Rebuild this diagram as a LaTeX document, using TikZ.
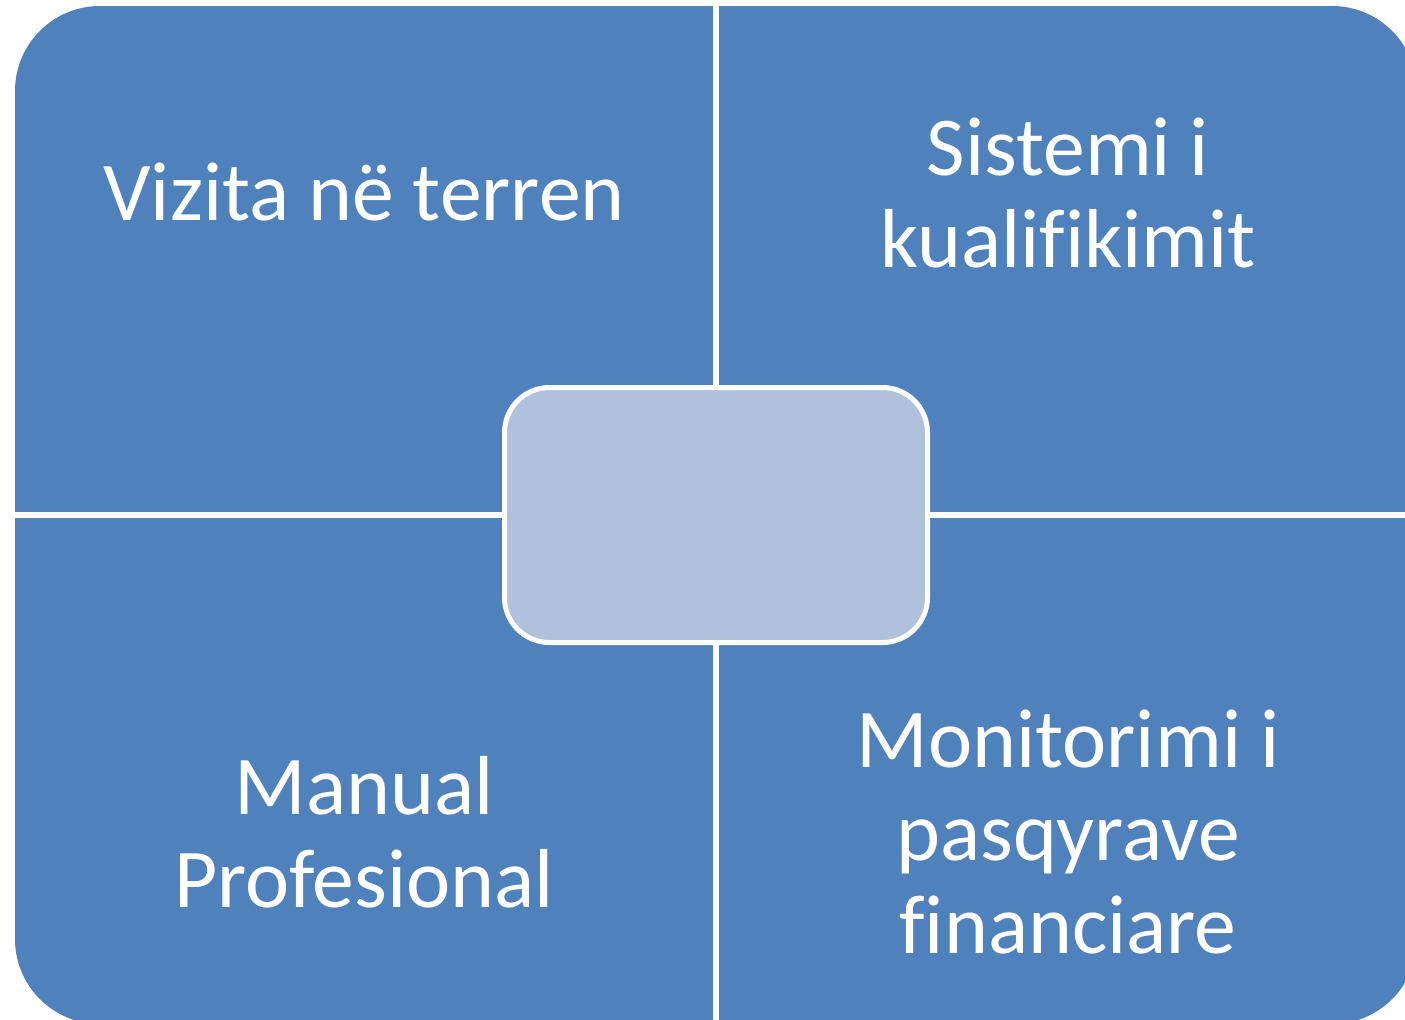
\documentclass[tikz,border=0pt]{standalone}
\usepackage{fontspec}
\setmainfont{Carlito}[Ligatures=NoCommon]
\definecolor{quadblue}{HTML}{4F81BD}
\definecolor{centerblue}{HTML}{B0C1DB}
\tikzset{
  quad/.style={fill=quadblue},
  quadtext/.style={text=white, align=center, font=\fontsize{84}{93}\selectfont, inner sep=0pt},
  centerbox/.style={draw=white, line width=5bp, fill=centerblue, rounded corners=45bp,
    minimum width=423bp, minimum height=255bp, inner sep=0pt}
}
\begin{document}
\begin{tikzpicture}[x=1bp,y=-1bp]
\path[use as bounding box] (0,0) rectangle (1405,1019);
\fill[white] (0,0) rectangle (1405,1019);
\begin{scope}
  \clip (0,0) rectangle (1405,1019);
  \clip[rounded corners=85bp] (15,6) rectangle (1417,1024);
  \fill[quad] (15,6) rectangle (713,512);
  \fill[quad] (719,6) rectangle (1417,512);
  \fill[quad] (15,518) rectangle (713,1024);
  \fill[quad] (719,518) rectangle (1417,1024);
\end{scope}
\node[centerbox] (c) at (716,515) {};
\node[quadtext] (tl) at (364,192) {Vizita në terren};
\node[quadtext] (tr) at (1068,193) {Sistemi i\\kualifikimit};
\node[quadtext] (bl) at (364,832) {Manual\\Profesional};
\node[quadtext] (br) at (1068,832) {Monitorimi i\\pasqyrave\\financiare};
\end{tikzpicture}
\end{document}
